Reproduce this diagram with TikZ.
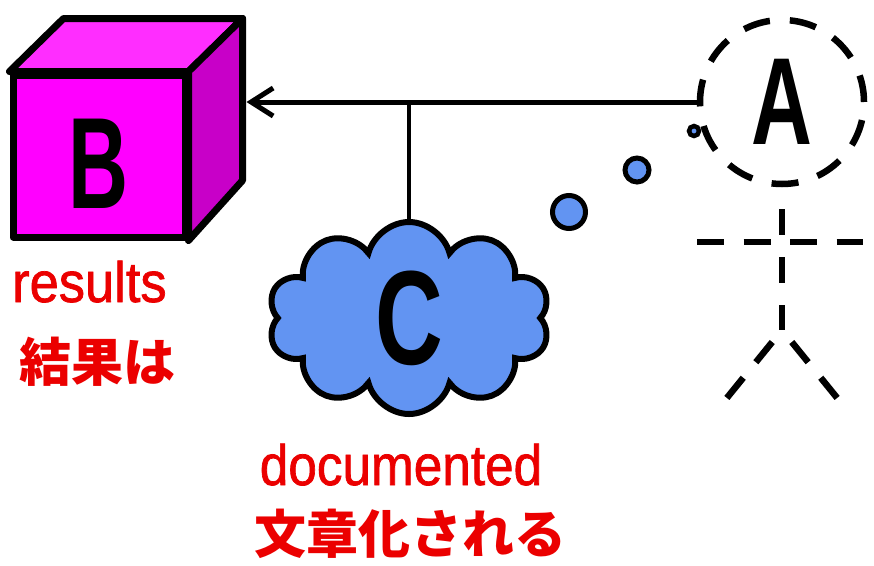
\documentclass[tikz,border=0pt]{standalone}
\usepackage{fontspec}
\setmainfont{Liberation Sans}
\newfontfamily\capfont{Liberation Sans}[FakeBold=1.3]
\newfontfamily\jpfont{Noto Sans CJK JP}
\usepackage{graphicx}
\usepackage{tikz}
\usetikzlibrary{shapes.symbols, arrows.meta}
\definecolor{boxfront}{RGB}{255,0,255}
\definecolor{boxtop}{RGB}{255,45,255}
\definecolor{boxside}{RGB}{200,0,200}
\definecolor{cloudblue}{RGB}{98,148,242}
\definecolor{labelred}{RGB}{235,0,0}
\tikzset{
  face/.style={draw=black, line width=7pt, line join=round},
  bigletter/.style={inner sep=0pt, font=\fontsize{130}{130}\selectfont\bfseries},
  thought/.style={circle, draw=black, fill=cloudblue, line width=5pt, inner sep=0pt},
  stick/.style={line width=6.5pt, dash pattern=on 26pt off 20pt},
  caption/.style={text=labelred, inner sep=0pt, font=\capfont\fontsize{57}{57}\selectfont},
  jcaption/.style={text=labelred, inner sep=0pt, font=\jpfont\bfseries\fontsize{52}{52}\selectfont}
}
\tikzstyle{arrow} = [line width=5pt, black, -{Straight Barb[length=22pt,width=28pt]}]

\begin{document}
\begin{tikzpicture}[x=1pt,y=-1pt]
    \useasboundingbox (0,0) rectangle (874,565);
    % the box
    \node [face, rectangle, fill=boxfront, minimum width=172pt, minimum height=162pt] (b) at (99,156) {};
    \coordinate (bback) at ([xshift=54pt,yshift=53pt]b.north east);
    \draw [face, fill=boxtop] (b.north west) -- ++(54,-53) -- (bback) -- (b.north east) -- cycle;
    \draw [face, fill=boxside] (b.north east) -- (bback) -- ++(0,162) -- (b.south east) -- cycle;
    \node [bigletter] (bname) at (99,164) {\scalebox{0.64}[1]{B}};
    % actor
    \node [circle, draw, dashed, line width=6.5pt, dash pattern=on 27pt off 20pt, minimum size=164pt, inner sep=0pt,
           font=\fontsize{124}{124}\selectfont\bfseries] (a) at (782,102) {\scalebox{0.68}[1]{A}};
    \coordinate (hip) at (782,330);
    \draw [stick, dash pattern=on 26pt off 22pt, dash phase=26pt] (a.south) -- (hip);
    \draw [stick, dash pattern=on 27pt off 19.5pt] (697,242) -- (863,242);
    \draw [stick, dash phase=30.5pt] (hip) -- ++(-56,69);
    \draw [stick, dash phase=30.5pt] (hip) -- ++(56,69);
    % thought
    \node [cloud, cloud puffs=10, aspect=1.5, draw=black, fill=cloudblue, line width=6pt, inner sep=0pt,
           minimum width=282pt, minimum height=192pt, font=\fontsize{134}{134}\selectfont\bfseries] (c) at (409,318) {\scalebox{0.7}[1]{C}};
    \node [thought, minimum size=33pt] (t3) at (569,212) {};
    \node [thought, minimum size=24pt] (t2) at (637,170) {};
    \node [thought, minimum size=10pt, line width=4.5pt] (t1) at (694,131) {};
    % links
    \draw [arrow] (a.west) -- ([xshift=4pt]a.west -| bback);
    \draw [line width=4.5pt] (c.north) -- (c.north |- a.west);
    % captions
    \node [caption, anchor=base west] (bres) at (12,302) {\scalebox{0.92}[1]{results}};
    \node [jcaption] (bjp) at (97,362) {結果は};
    \node [caption, anchor=base] (cdoc) at (401,485) {\scalebox{0.9}[1]{documented}};
    \node [jcaption] (cjp) at (410,534) {文章化される};
\end{tikzpicture}
\end{document}
